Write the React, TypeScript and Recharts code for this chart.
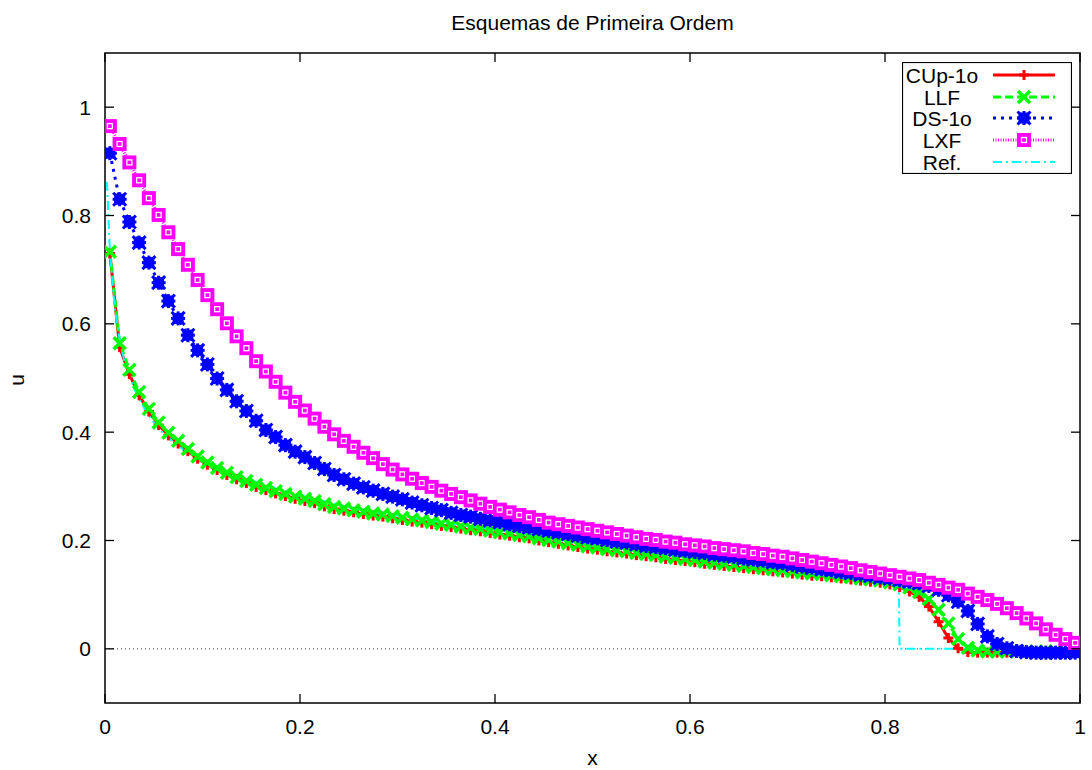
import React from "react";
import { LineChart, Line, XAxis, YAxis, ReferenceLine, ReferenceArea, Legend } from "recharts";

// malha: 100 celulas em [0,1], valores nos centros
const xGrid = Array.from({ length: 100 }, (_, i) => (i + 0.5) / 100);

const cup1o = [
  0.730, 0.557, 0.507, 0.468, 0.438, 0.413, 0.394, 0.379, 0.365, 0.351,
  0.340, 0.330, 0.321, 0.313, 0.306, 0.299, 0.293, 0.287, 0.282, 0.277,
  0.273, 0.269, 0.263, 0.258, 0.255, 0.252, 0.249, 0.246, 0.244, 0.241,
  0.238, 0.235, 0.233, 0.230, 0.227, 0.225, 0.222, 0.219, 0.217, 0.214,
  0.211, 0.209, 0.206, 0.204, 0.200, 0.197, 0.194, 0.191, 0.188, 0.185,
  0.183, 0.180, 0.178, 0.176, 0.173, 0.171, 0.169, 0.166, 0.164, 0.162,
  0.160, 0.157, 0.155, 0.153, 0.151, 0.149, 0.147, 0.145, 0.143, 0.141,
  0.139, 0.137, 0.135, 0.134, 0.132, 0.130, 0.128, 0.126, 0.124, 0.122,
  0.119, 0.114, 0.106, 0.096, 0.078, 0.050, 0.020, 0.001, -0.006, -0.007,
  -0.007, -0.007, -0.007, -0.007, -0.007, -0.007, -0.007, -0.007, -0.007, -0.007,
];

const llf = [
  0.733, 0.564, 0.515, 0.474, 0.443, 0.418, 0.399, 0.384, 0.369, 0.355,
  0.344, 0.334, 0.325, 0.317, 0.310, 0.303, 0.297, 0.291, 0.286, 0.281,
  0.277, 0.273, 0.267, 0.262, 0.259, 0.256, 0.253, 0.250, 0.248, 0.245,
  0.242, 0.239, 0.237, 0.234, 0.231, 0.229, 0.226, 0.223, 0.221, 0.218,
  0.215, 0.213, 0.210, 0.208, 0.204, 0.201, 0.198, 0.195, 0.192, 0.189,
  0.187, 0.184, 0.182, 0.180, 0.177, 0.175, 0.173, 0.170, 0.168, 0.166,
  0.164, 0.161, 0.159, 0.157, 0.155, 0.153, 0.151, 0.149, 0.147, 0.145,
  0.143, 0.141, 0.139, 0.138, 0.136, 0.134, 0.132, 0.130, 0.128, 0.126,
  0.123, 0.119, 0.113, 0.105, 0.092, 0.072, 0.047, 0.018, 0.002, -0.003,
  -0.005, -0.005, -0.005, -0.005, -0.005, -0.005, -0.005, -0.005, -0.005, -0.005,
];

const ds1o = [
  0.915, 0.830, 0.788, 0.750, 0.713, 0.676, 0.642, 0.610, 0.579, 0.551,
  0.525, 0.499, 0.478, 0.457, 0.439, 0.421, 0.404, 0.391, 0.376, 0.364,
  0.354, 0.343, 0.332, 0.321, 0.313, 0.305, 0.298, 0.292, 0.286, 0.281,
  0.276, 0.270, 0.265, 0.260, 0.256, 0.251, 0.247, 0.244, 0.240, 0.237,
  0.234, 0.230, 0.227, 0.224, 0.221, 0.218, 0.215, 0.212, 0.209, 0.206,
  0.204, 0.201, 0.198, 0.196, 0.193, 0.190, 0.188, 0.186, 0.183, 0.181,
  0.179, 0.177, 0.174, 0.172, 0.170, 0.167, 0.165, 0.163, 0.160, 0.158,
  0.155, 0.152, 0.150, 0.147, 0.145, 0.142, 0.140, 0.137, 0.135, 0.132,
  0.130, 0.127, 0.124, 0.121, 0.116, 0.109, 0.099, 0.087, 0.070, 0.046,
  0.023, 0.009, 0.001, -0.004, -0.006, -0.007, -0.007, -0.007, -0.007, -0.007,
];

const lxf = [
  0.965, 0.932, 0.898, 0.865, 0.832, 0.801, 0.769, 0.738, 0.709, 0.681,
  0.653, 0.627, 0.601, 0.577, 0.555, 0.531, 0.512, 0.493, 0.473, 0.456,
  0.440, 0.425, 0.410, 0.396, 0.384, 0.373, 0.362, 0.352, 0.341, 0.331,
  0.322, 0.314, 0.306, 0.299, 0.292, 0.286, 0.280, 0.274, 0.268, 0.262,
  0.257, 0.252, 0.247, 0.243, 0.238, 0.233, 0.230, 0.227, 0.224, 0.221,
  0.218, 0.215, 0.212, 0.209, 0.206, 0.203, 0.201, 0.198, 0.196, 0.193,
  0.191, 0.189, 0.186, 0.184, 0.182, 0.180, 0.177, 0.175, 0.172, 0.170,
  0.167, 0.164, 0.161, 0.158, 0.155, 0.152, 0.149, 0.145, 0.142, 0.139,
  0.136, 0.133, 0.130, 0.127, 0.122, 0.118, 0.113, 0.109, 0.102, 0.096,
  0.090, 0.083, 0.075, 0.066, 0.056, 0.047, 0.036, 0.026, 0.018, 0.011,
];

// solucao de referencia (malha fina)
const refX = [
  0.002, 0.005, 0.01, 0.015, 0.02, 0.03, 0.04, 0.05, 0.06, 0.08, 0.1, 0.125,
  0.15, 0.2, 0.25, 0.3, 0.35, 0.4, 0.45, 0.5, 0.55, 0.6, 0.65, 0.7, 0.75,
  0.8, 0.814, 0.815, 0.9, 1,
];
const refU = [
  0.862, 0.736, 0.63, 0.572, 0.53, 0.48, 0.445, 0.418, 0.397, 0.368, 0.347, 0.327,
  0.311, 0.283, 0.262, 0.246, 0.233, 0.221, 0.208, 0.196, 0.185, 0.176, 0.167, 0.158, 0.150,
  0.143, 0.141, 0, 0, 0,
];

const xTicks = [0, 0.2, 0.4, 0.6, 0.8, 1];
const yTicks = [0, 0.2, 0.4, 0.6, 0.8, 1];

const data = xGrid.map((x, i) => ({ x, cup: cup1o[i], llf: llf[i], ds: ds1o[i], lxf: lxf[i] }));
const refData = refX.map((x, i) => ({ x, ref: refU[i] }));

const W = 1092;
const H = 770;
const LEFT = 105;
const RIGHT = 1080;
const TOP = 53;
const BOTTOM = 703;
const FONT = "'Liberation Sans', Arial, sans-serif";
const FS = 21;

const RED = "#ff0000";
const GREEN = "#00ff00";
const BLUE = "#0000ff";
const MAGENTA = "#ff00ff";
const CYAN = "#00ffff";

const fmt = (v: number) => String(Number(v.toFixed(1)));

// marcadores estilo gnuplot
function PlusMark({ cx, cy }: { cx: number; cy: number }) {
  return (
    <g stroke={RED} strokeWidth={3}>
      <line x1={cx - 5} y1={cy} x2={cx + 5} y2={cy} />
      <line x1={cx} y1={cy - 5} x2={cx} y2={cy + 5} />
    </g>
  );
}
function CrossMark({ cx, cy }: { cx: number; cy: number }) {
  return (
    <g stroke={GREEN} strokeWidth={3.5}>
      <line x1={cx - 6} y1={cy - 6} x2={cx + 6} y2={cy + 6} />
      <line x1={cx - 6} y1={cy + 6} x2={cx + 6} y2={cy - 6} />
    </g>
  );
}
function StarMark({ cx, cy }: { cx: number; cy: number }) {
  return (
    <g stroke={BLUE} strokeWidth={3}>
      <rect x={cx - 5.5} y={cy - 5.5} width={11} height={11} fill={BLUE} stroke="none" />
      <line x1={cx - 7} y1={cy} x2={cx + 7} y2={cy} />
      <line x1={cx} y1={cy - 7} x2={cx} y2={cy + 7} />
      <line x1={cx - 6.5} y1={cy - 6.5} x2={cx + 6.5} y2={cy + 6.5} />
      <line x1={cx - 6.5} y1={cy + 6.5} x2={cx + 6.5} y2={cy - 6.5} />
    </g>
  );
}
function BoxMark({ cx, cy }: { cx: number; cy: number }) {
  return (
    <g>
      <rect x={cx - 7} y={cy - 7} width={14} height={14} fill={MAGENTA} />
      <rect x={cx - 2.5} y={cy - 2.5} width={5} height={5} fill="none" stroke="#fff" strokeWidth={1.3} />
    </g>
  );
}

const series = [
  { key: "cup", name: "CUp-1o", color: RED, dash: undefined, width: 3, Mark: PlusMark },
  { key: "llf", name: "LLF", color: GREEN, dash: "8 4", width: 3, Mark: CrossMark },
  { key: "ds", name: "DS-1o", color: BLUE, dash: "3 5", width: 3, Mark: StarMark },
  { key: "lxf", name: "LXF", color: MAGENTA, dash: "1 1.5", width: 3, Mark: BoxMark },
  { key: "ref", name: "Ref.", color: CYAN, dash: "9 4 2 4", width: 2, Mark: null },
];

function XTick(props: any) {
  const { x, payload } = props;
  return (
    <g>
      <line x1={x} y1={BOTTOM} x2={x} y2={BOTTOM - 9} stroke="#000" strokeWidth={1.3} />
      <line x1={x} y1={TOP} x2={x} y2={TOP + 9} stroke="#000" strokeWidth={1.3} />
      <text x={x} y={734} textAnchor="middle" fontFamily={FONT} fontSize={FS} fill="#000">
        {fmt(payload.value)}
      </text>
    </g>
  );
}

function YTick(props: any) {
  const { y, payload } = props;
  return (
    <g>
      <line x1={LEFT} y1={y} x2={LEFT + 9} y2={y} stroke="#000" strokeWidth={1.3} />
      <line x1={RIGHT} y1={y} x2={RIGHT - 9} y2={y} stroke="#000" strokeWidth={1.3} />
      <text x={91} y={y + 7.5} textAnchor="end" fontFamily={FONT} fontSize={FS} fill="#000">
        {fmt(payload.value)}
      </text>
    </g>
  );
}

function KeyBox() {
  const rows = [13, 35, 56, 78, 100];
  return (
    <svg width={170} height={112} style={{ display: "block" }}>
      <rect x={0.5} y={0.5} width={169} height={111} fill="#fff" stroke="#000" strokeWidth={1.2} />
      {series.map((s, i) => (
        <g key={s.key}>
          <text x={40} y={rows[i] + 7.5} textAnchor="middle" fontFamily={FONT} fontSize={FS} fill="#000">
            {s.name}
          </text>
          <line x1={91} y1={rows[i]} x2={153} y2={rows[i]} stroke={s.color} strokeWidth={s.width} strokeDasharray={s.dash} />
          {s.Mark && <s.Mark cx={122} cy={rows[i]} />}
        </g>
      ))}
    </svg>
  );
}

export default function App() {
  return (
    <div style={{ position: "absolute", left: 0, top: 0, width: W, height: H, background: "#fff" }}>
      <LineChart width={W} height={H} data={data} margin={{ top: TOP, right: W - RIGHT, bottom: 0, left: 0 }}>
        <XAxis
          dataKey="x"
          type="number"
          domain={[0, 1]}
          ticks={xTicks}
          allowDataOverflow
          height={H - BOTTOM}
          axisLine={false}
          tickLine={false}
          tick={<XTick />}
        />
        <YAxis
          type="number"
          domain={[-0.1, 1.1]}
          ticks={yTicks}
          allowDataOverflow
          width={LEFT}
          axisLine={false}
          tickLine={false}
          tick={<YTick />}
        />
        <ReferenceArea x1={0} x2={1} y1={-0.1} y2={1.1} fill="none" stroke="#000" strokeWidth={1.5} />
        <ReferenceLine y={0} stroke="#444" strokeWidth={1} strokeDasharray="1 3" />
        <Legend
          layout="horizontal"
          verticalAlign="middle"
          align="center"
          content={() => <KeyBox />}
          wrapperStyle={{ left: 902, top: 62, width: 170, height: 112 }}
        />
        {series.map((s) =>
          s.key === "ref" ? (
            <Line
              key={s.key}
              data={refData}
              dataKey="ref"
              type="linear"
              stroke={s.color}
              strokeWidth={s.width}
              strokeDasharray={s.dash}
              dot={false}
              activeDot={false}
              isAnimationActive={false}
            />
          ) : (
            <Line
              key={s.key}
              dataKey={s.key}
              type="linear"
              stroke={s.color}
              strokeWidth={s.width}
              strokeDasharray={s.dash}
              dot={(p: any) => <s.Mark key={`${s.key}-${p.index}`} cx={p.cx} cy={p.cy} />}
              activeDot={false}
              isAnimationActive={false}
            />
          )
        )}
      </LineChart>
      <svg width={W} height={H} style={{ position: "absolute", left: 0, top: 0, pointerEvents: "none" }}>
        <text x={(LEFT + RIGHT) / 2} y={30} textAnchor="middle" fontFamily={FONT} fontSize={FS} fill="#000">
          Esquemas de Primeira Ordem
        </text>
        <text x={(LEFT + RIGHT) / 2} y={765} textAnchor="middle" fontFamily={FONT} fontSize={FS} fill="#000">
          x
        </text>
        <text x={24} y={380} textAnchor="middle" fontFamily={FONT} fontSize={FS} fill="#000" transform="rotate(-90 24 380)">
          u
        </text>
      </svg>
    </div>
  );
}
